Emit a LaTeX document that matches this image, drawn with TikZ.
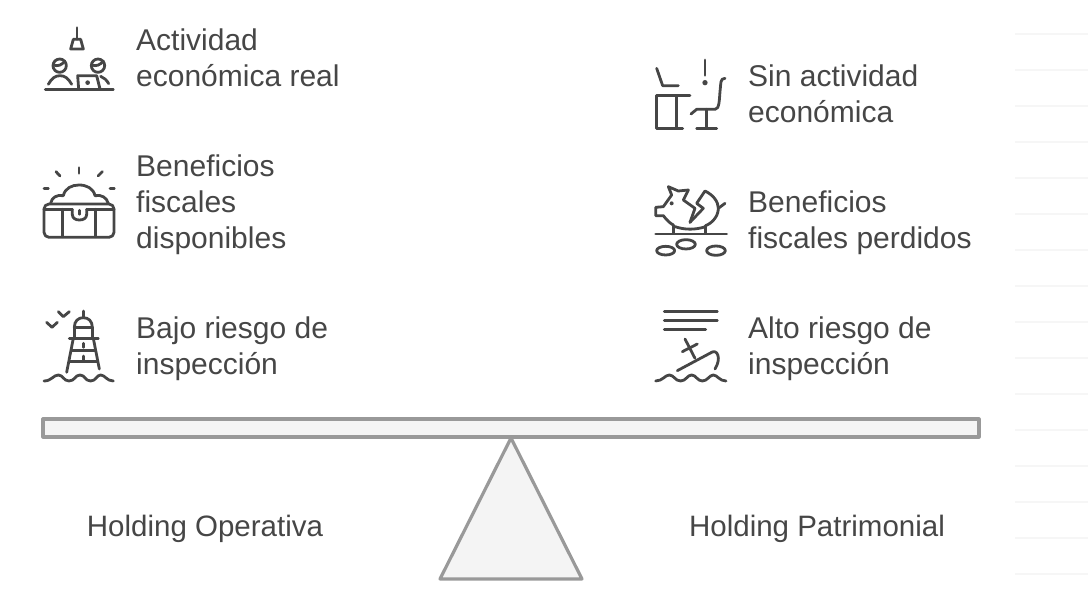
\documentclass[tikz,border=0pt]{standalone}
\usepackage{fontspec}
\setmainfont{Liberation Sans}
\definecolor{inkc}{HTML}{464646}
\definecolor{barc}{HTML}{999999}
\definecolor{fillc}{HTML}{F4F4F4}
\definecolor{ghostc}{HTML}{F6F6F6}
\tikzset{
  label/.style={anchor=west, align=left, text=inkc, inner sep=0pt, font=\fontsize{30}{36}\selectfont},
  side/.style={anchor=center, text=inkc, inner sep=0pt, font=\fontsize{29.5}{36}\selectfont},
  icon/.style={draw=inkc, line width=2.8pt, line cap=round, line join=round},
  balance/.style={draw=barc, fill=fillc, line width=3.2pt, line join=round},
  zoomed/.style={x=0.3333pt, y=-0.3333pt}
}
\begin{document}
\begin{tikzpicture}[x=1pt, y=-1pt]

    \useasboundingbox (0,0) rectangle (1088,610);

    % faint rules on the right
    \foreach \yrule in {34,70,...,574} {
        \draw[ghostc, line width=1.5pt] (1015,\yrule) -- (1088,\yrule);
    }

    % balance
    \draw[balance] (43,419) rectangle (979,437);
    \draw[balance] (511,438) -- (582,579) -- (440,579) -- cycle;

    \node [side] (operativa) at (205,529) {Holding Operativa};
    \node [side] (patrimonial) at (817,529) {Holding Patrimonial};

    % left labels
    \node [label] (real) at (136,58) {Actividad\\económica real};
    \node [label] (disponibles) at (136,205) {Beneficios\\fiscales\\disponibles};
    \node [label] (bajo) at (136,349) {Bajo riesgo de\\inspección};

    % right labels
    \node [label] (sin) at (748,94) {Sin actividad\\económica};
    \node [label] (perdidos) at (748,223) {Beneficios\\fiscales perdidos};
    \node [label] (alto) at (748,349) {Alto riesgo de\\inspección};

    % workers icon
    \begin{scope}[shift={(30,15)}, zoomed]
        \draw[icon] (141,38) -- (141,73);
        \draw[icon] (130,73) -- (152,73) -- (160,102) -- (122,102) -- cycle;
        \draw[icon] (89,152) circle [radius=20];
        \draw[icon] (204,152) circle [radius=20];
        \draw[icon] (70,150) .. controls (85,155) and (95,150) .. (105,138);
        \draw[icon] (185,150) .. controls (200,155) and (210,150) .. (220,138);
        \draw[icon] (46,224) -- (250,224);
        \draw[icon] (55,208) .. controls (65,190) and (75,182) .. (90,182) .. controls (105,182) and (115,190) .. (125,208);
        \draw[icon] (212,184) .. controls (222,188) and (230,195) .. (236,206);
        \draw[icon] (146,222) -- (143,182) -- (200,182) -- (210,222);
        \fill[inkc] (173,203) circle [radius=7];
    \end{scope}

    % treasure chest icon
    \begin{scope}[shift={(30,155)}, zoomed]
        \draw[icon] (147,38) -- (147,55);
        \draw[icon] (78,50) -- (90,63);
        \draw[icon] (217,50) -- (204,63);
        \draw[icon] (42,101) -- (55,101);
        \draw[icon] (240,101) -- (253,101);
        \draw[icon] (62,145) .. controls (65,128) and (80,118) .. (100,122) .. controls (105,100) and (125,90) .. (147,90) .. controls (170,90) and (190,100) .. (195,122) .. controls (215,118) and (230,128) .. (235,145);
        \draw[icon, rounded corners=5pt] (42,147) rectangle (252,247);
        \draw[icon] (42,163) -- (127,163);
        \draw[icon] (170,163) -- (252,163);
        \draw[icon] (97,163) -- (97,245);
        \draw[icon] (197,163) -- (197,245);
        \draw[icon] (127,163) -- (127,178) .. controls (127,190) and (137,195) .. (148,195) .. controls (160,195) and (170,190) .. (170,178) -- (170,163);
        \draw[icon] (148,166) -- (148,178);
    \end{scope}

    % lighthouse icon
    \begin{scope}[shift={(30,295)}, zoomed]
        \draw[icon] (50,82) -- (66,97) -- (82,82);
        \draw[icon] (85,50) -- (100,65) -- (118,50);
        \draw[icon] (160,48) -- (160,68);
        \draw[icon] (133,97) .. controls (133,78) and (145,68) .. (160,68) .. controls (175,68) and (187,78) .. (187,97);
        \draw[icon] (133,97) -- (187,97);
        \draw[icon] (133,97) -- (133,130);
        \draw[icon] (187,97) -- (187,130);
        \draw[icon] (118,130) -- (205,130);
        \draw[icon] (130,130) -- (110,232);
        \draw[icon] (190,130) -- (208,222);
        \draw[icon] (125,167) -- (195,167);
        \draw[icon] (118,200) -- (200,200);
        \draw[icon] (160,145) -- (160,157);
        \draw[icon] (160,183) -- (160,195);
        \draw[icon] (42,258) .. controls (65,258) and (70,240) .. (85,240) .. controls (100,240) and (100,258) .. (117,258) .. controls (135,258) and (135,240) .. (150,240) .. controls (165,240) and (165,258) .. (182,258) .. controls (198,258) and (200,240) .. (212,240) .. controls (225,240) and (230,258) .. (250,258);
    \end{scope}

    % empty desk icon
    \begin{scope}[shift={(640,50)}, zoomed]
        \draw[icon] (50,55) -- (68,107) -- (115,107);
        \draw[icon] (195,30) -- (195,76);
        \fill[inkc] (195,98) circle [radius=8];
        \draw[icon] (50,137) -- (150,137);
        \draw[icon] (50,137) -- (50,235) -- (128,235);
        \draw[icon] (110,137) -- (110,235);
        \draw[icon] (255,85) .. controls (240,85) and (243,100) .. (240,125) .. controls (238,150) and (238,178) .. (225,178) -- (170,178) -- (153,192);
        \draw[icon] (200,178) -- (200,235);
        \draw[icon] (170,235) -- (230,235);
    \end{scope}

    % broken piggy bank icon
    \begin{scope}[shift={(640,175)}, zoomed]
        \draw[icon] (150,142) -- (165,100) -- (130,75) -- (145,45) -- (115,48) -- (85,35) -- (95,60) -- (70,95) -- (47,97) -- (47,122) -- (70,122) .. controls (80,135) and (90,145) .. (100,150);
        \draw[icon] (150,142) -- (190,100) -- (170,85) -- (195,48) .. controls (220,60) and (235,80) .. (235,100) .. controls (235,125) and (215,145) .. (197,152);
        \draw[icon] (235,100) -- (255,85);
        \draw[icon] (105,155) .. controls (135,165) and (165,165) .. (197,155);
        \draw[icon] (100,150) -- (100,175);
        \draw[icon] (197,152) -- (197,175);
        \fill[inkc] (95,85) circle [radius=6];
        \draw[icon] (47,177) -- (260,177);
        \draw[icon] (77,227) ellipse [x radius=27, y radius=13];
        \draw[icon] (138,208) ellipse [x radius=28, y radius=14];
        \draw[icon] (228,227) ellipse [x radius=28, y radius=14];
    \end{scope}

    % shipwreck icon
    \begin{scope}[shift={(640,295)}, zoomed]
        \draw[icon] (73,50) -- (232,50);
        \draw[icon] (73,77) -- (232,77);
        \draw[icon] (73,104) -- (197,104);
        \draw[icon] (112,227) -- (215,172) .. controls (232,162) and (245,190) .. (225,222);
        \draw[icon] (135,132) -- (165,190);
        \draw[icon] (127,170) -- (172,147);
        \draw[icon] (47,258) .. controls (68,258) and (75,240) .. (88,240) .. controls (102,240) and (105,258) .. (122,258) .. controls (138,258) and (142,240) .. (155,240) .. controls (168,240) and (172,258) .. (187,258) .. controls (203,258) and (208,240) .. (220,240) .. controls (232,240) and (238,258) .. (258,258);
    \end{scope}

\end{tikzpicture}
\end{document}
